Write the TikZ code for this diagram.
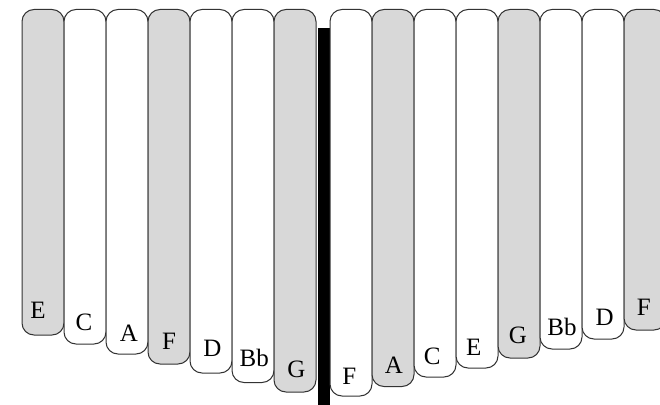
\documentclass[tikz,border=0pt]{standalone}
\usepackage{fontspec}
\setmainfont{Liberation Serif}
\definecolor{keygray}{HTML}{D8D8D8}
\begin{document}
\begin{tikzpicture}[x=1pt,y=-1pt,
  key/.style={draw=black!80, line width=1pt, rounded corners=12pt},
  lab/.style={font=\fontsize{25}{25}\selectfont, anchor=base, inner sep=0pt, text=black}]
\useasboundingbox (0,0) rectangle (660,404);
\clip (0,0) rectangle (660,404);
\fill[black] (317.5,28.5) rectangle (330,410);
\foreach \x/\b/\c/\t/\lx/\ly/\n in {
  22/335/keygray/E/38/318.3/k1,
  64/344/white/C/84/330.7/k2,
  106/354/white/A/129/341.7/k3,
  148/364/keygray/F/169/349.5/k4,
  190/373/white/D/212.5/356/k5,
  232/382.5/white/Bb/254.3/366.7/k6,
  274/392/keygray/G/296.3/377.7/k7,
  330/396/white/F/349.3/384.3/k8,
  372/386.5/keygray/A/393.8/373.3/k9,
  414/377/white/C/432.3/364/k10,
  456/368/white/E/473.8/355/k11,
  498/358/keygray/G/517.8/343.3/k12,
  540/349/white/Bb/562/335/k13,
  582/339/white/D/604.7/325/k14,
  624/330/keygray/F/643.7/315.7/k15}
{
  \draw[key, fill=\c] (\x,9.5) rectangle ({\x+42},\b);
  \node[lab] (\n) at (\lx,\ly) {\t};
}
\end{tikzpicture}
\end{document}
